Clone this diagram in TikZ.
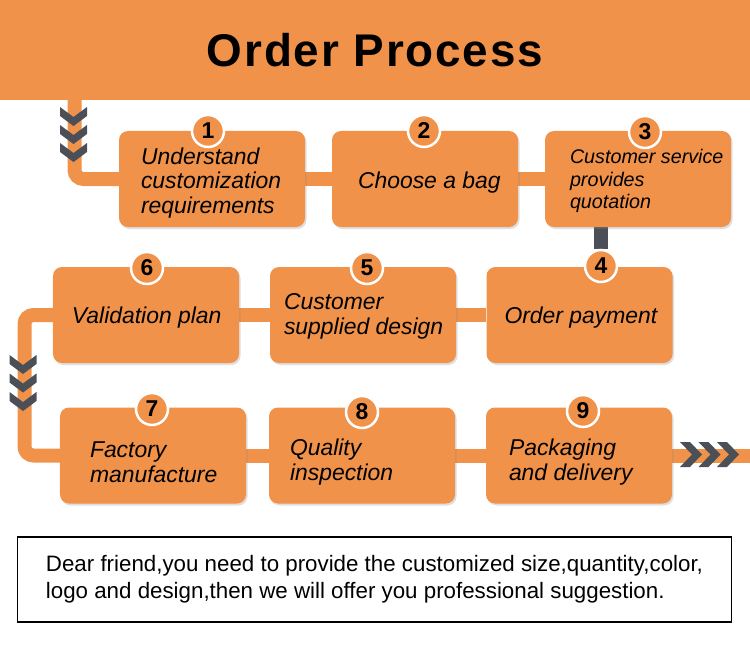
\documentclass[tikz,border=0pt]{standalone}
\usepackage{fontspec}
\setmainfont{Liberation Sans}
\usetikzlibrary{shadows,backgrounds}
\definecolor{procorange}{HTML}{F1924B}
\definecolor{chevgray}{HTML}{4B5058}
\tikzset{
  stepbox/.style={rectangle,rounded corners=9bp,fill=procorange,minimum width=186bp,minimum height=96bp,inner sep=0pt,
    drop shadow={shadow xshift=1.5bp,shadow yshift=-2bp,opacity=0.25}},
  steptext/.style={anchor=west,align=left,inner sep=0pt,font=\itshape\fontsize{23}{25}\selectfont},
  stepnum/.style={circle,fill=procorange,draw=white,line width=2.5bp,minimum size=32bp,inner sep=0pt,font=\bfseries\fontsize{23}{23}\selectfont},
  flowline/.style={draw=procorange,line width=14bp,rounded corners=9bp},
  notebox/.style={draw=black,line width=1.2bp,minimum width=714bp,minimum height=85bp,align=left,font=\fontsize{22.4}{27}\selectfont},
}
\newcommand\chevdown[2]{\fill[chevgray] (#1,#2) -- ++(13.5,10) -- ++(13.5,-10) -- ++(0,9) -- ++(-13.5,10) -- ++(-13.5,-10) -- cycle;}
\newcommand\chevright[2]{\fill[chevgray] (#1,#2) ++(0,-12.5) -- ++(10,0) -- ++(12,12.5) -- ++(-12,12.5) -- ++(-10,0) -- ++(12,-12.5) -- cycle;}
\begin{document}
\begin{tikzpicture}[x=1bp,y=-1bp]
\useasboundingbox (0,0) rectangle (750,663);
% header band
\fill[procorange] (0,0) rectangle (750,100);
\node[font=\bfseries\fontsize{46}{46}\selectfont\addfontfeature{LetterSpace=4}] (title) at (375,50) {Order Process};

% first row
\node[stepbox] (b1) at (212,179) {};
\node[stepbox] (b2) at (425,179) {};
\node[stepbox] (b3) at (638,179) {};
\node[steptext] (t1) at ([shift={(22,4)}]b1.west) {Understand\\customization\\requirements};
\node[steptext] (t2) at ([shift={(26,4)}]b2.west) {Choose a bag};
\node[steptext,font=\itshape\fontsize{19.8}{22.5}\selectfont] (t3) at ([shift={(25,2)}]b3.west) {Customer service\\provides\\quotation};
\node[stepnum] (n1) at (208,131) {1};
\node[stepnum] (n2) at (424,131) {2};
\node[stepnum] (n3) at (645,132) {3};

% second row
\node[stepbox] (b6) at (146,315) {};
\node[stepbox] (b5) at (363,315) {};
\node[stepbox] (b4) at (579.5,315) {};
\node[steptext] (t6) at ([shift={(19,3)}]b6.west) {Validation plan};
\node[steptext] (t5) at ([shift={(14,1)}]b5.west) {Customer\\supplied design};
\node[steptext] (t4) at ([shift={(18,3)}]b4.west) {Order payment};
\node[stepnum] (n6) at (147,268) {6};
\node[stepnum] (n5) at (367,268) {5};
\node[stepnum] (n4) at (601,266) {4};

% third row
\node[stepbox] (b7) at (153,455.5) {};
\node[stepbox] (b8) at (362,455.5) {};
\node[stepbox] (b9) at (579,455.5) {};
\node[steptext] (t7) at ([shift={(30,7)}]b7.west) {Factory\\manufacture};
\node[steptext] (t8) at ([shift={(21,7)}]b8.west) {Quality\\inspection};
\node[steptext] (t9) at ([shift={(23,7)}]b9.west) {Packaging\\and delivery};
\node[stepnum] (n7) at (152,409) {7};
\node[stepnum] (n8) at (362,412) {8};
\node[stepnum] (n9) at (583,411) {9};

\coordinate (start) at (74.5,90);
\coordinate (turn) at (24.5,385);
\coordinate (exit) at (750,455.5);

\begin{pgfonlayer}{background}
\draw[flowline] (start) |- (b1.west);
\draw[flowline] (b1.east) -- (b2.west) (b2.east) -- (b3.west);
\draw[draw=chevgray,line width=14bp] (b3.south -| n4) -- (n4);
\draw[flowline] (b4.west) -- (b5.east) (b5.west) -- (b6.east);
\draw[flowline] (b6.west) -| (turn) |- (b7.west);
\draw[flowline] (b7.east) -- (b8.west) (b8.east) -- (b9.west);
\draw[flowline] (b9.east) -- (exit);
\end{pgfonlayer}

% chevrons
\chevdown{60}{107}
\chevdown{60}{125}
\chevdown{60}{143}
\chevdown{9.5}{355}
\chevdown{9.5}{373.5}
\chevdown{9.5}{392}
\chevright{680}{454.5}
\chevright{698.5}{454.5}
\chevright{717}{454.5}

% note
\node[notebox] (note) at (374.5,579.5) {Dear friend,you need to provide the customized size,quantity,color,\\logo and design,then we will offer you professional suggestion.};
\end{tikzpicture}
\end{document}
